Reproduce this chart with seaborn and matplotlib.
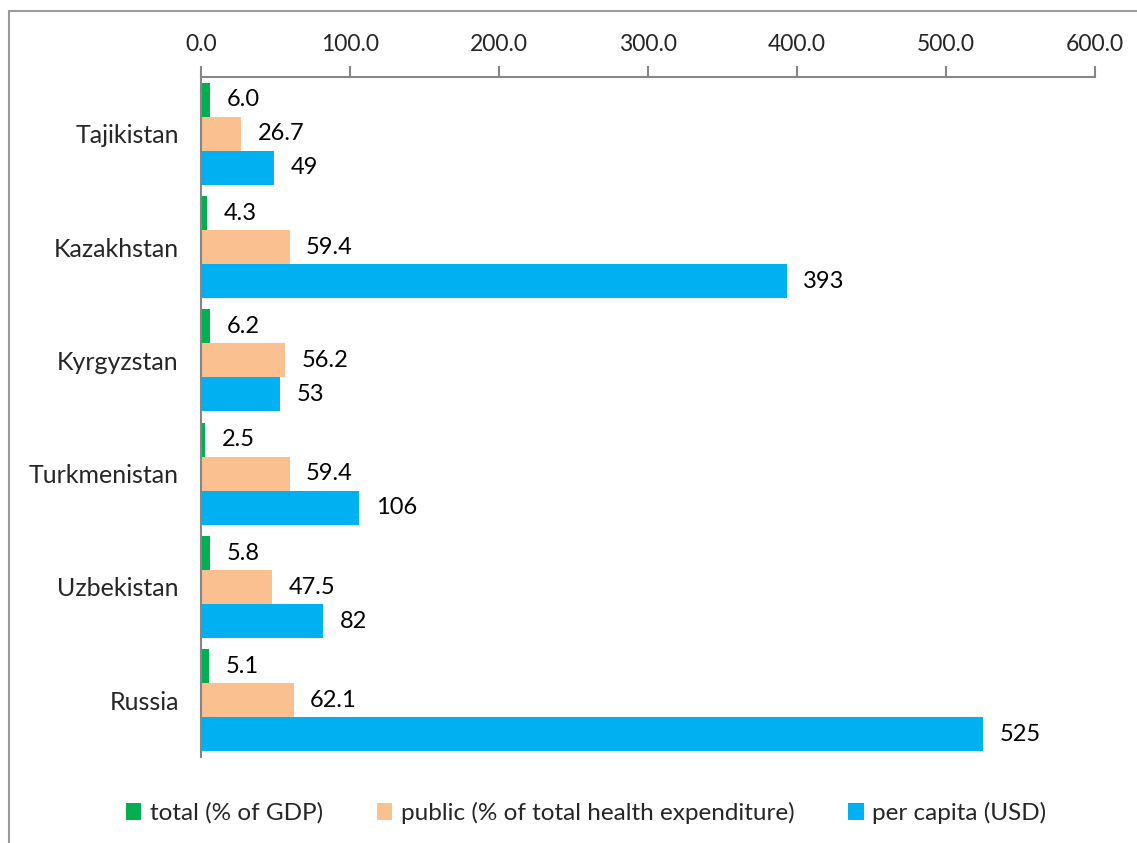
import matplotlib
matplotlib.use("Agg")
import matplotlib.pyplot as plt
from matplotlib.patches import Rectangle, Patch
import seaborn as sns
import pandas as pd

countries = ["Tajikistan", "Kazakhstan", "Kyrgyzstan", "Turkmenistan", "Uzbekistan", "Russia"]
total_gdp = [6.0, 4.3, 6.2, 2.5, 5.8, 5.1]
public_share = [26.7, 59.4, 56.2, 59.4, 47.5, 62.1]
per_capita = [49, 393, 53, 106, 82, 525]
series_names = ["total (% of GDP)", "public (% of total health expenditure)", "per capita (USD)"]
series_colors = ["#00B050", "#FAC090", "#00B0F0"]
x_ticks = [0, 100, 200, 300, 400, 500, 600]

df = pd.DataFrame({
    "country": countries * 3,
    "series": [series_names[0]] * 6 + [series_names[1]] * 6 + [series_names[2]] * 6,
    "value": total_gdp + public_share + per_capita,
})

sns.set_style("white")
plt.rcParams["font.family"] = ["Lato", "DejaVu Sans"]

fig = plt.figure(figsize=(11.37, 8.43), dpi=100)
ax = fig.add_axes([201 / 1137, 1 - 757 / 843, (1095 - 201) / 1137, (757 - 77) / 843])

sns.barplot(data=df, y="country", x="value", hue="series", order=countries,
            hue_order=series_names, palette=series_colors, orient="h",
            width=0.9, saturation=1, dodge=True, ax=ax, legend=False, errorbar=None)

for container, name in zip(ax.containers, series_names):
    fmt = "{:.0f}" if name == "per capita (USD)" else "{:.1f}"
    labels = [fmt.format(v) for v in container.datavalues]
    ax.bar_label(container, labels=labels, padding=12, fontsize=17, color="black")
    for bar in container:
        bar.set_edgecolor("none")

ax.set_xlim(0, 600)
ax.set_xticks(x_ticks)
ax.set_xticklabels([f"{t:.1f}" for t in x_ticks])
ax.xaxis.tick_top()
ax.set_ylim(len(countries) - 0.5, -0.5)
ax.set_xlabel("")
ax.set_ylabel("")

# category labels centred on groups, tick marks between groups
ax.set_yticks(range(len(countries)))
ax.set_yticklabels(countries)
ax.set_yticks([i - 0.5 for i in range(len(countries) + 1)], minor=True)
ax.tick_params(axis="y", which="major", length=0, pad=16, labelsize=18)
ax.tick_params(axis="y", which="minor", length=10, width=1.5, color="#868686", direction="out")
ax.tick_params(axis="x", which="major", length=8, width=1.5, color="#868686",
               direction="out", pad=8, labelsize=16.5)

for side in ["right", "bottom"]:
    ax.spines[side].set_visible(False)
for side in ["top", "left"]:
    ax.spines[side].set_color("#868686")
    ax.spines[side].set_linewidth(1.5)
ax.grid(False)

handles = [Patch(facecolor=c, edgecolor="none") for c in series_colors]
fig.legend(handles, series_names, loc="center", bbox_to_anchor=(586 / 1137, 1 - 813 / 843),
           ncol=3, frameon=False, fontsize=17.5, handlelength=0.65, handleheight=0.65,
           handletextpad=0.35, columnspacing=2.2)

fig.patches.append(Rectangle((9 / 1137, -0.05), 1.2, 1.05 - 11 / 843, transform=fig.transFigure,
                             fill=False, edgecolor="#9a9a9a", linewidth=1.5))

fig.savefig("out.png", dpi=100)
